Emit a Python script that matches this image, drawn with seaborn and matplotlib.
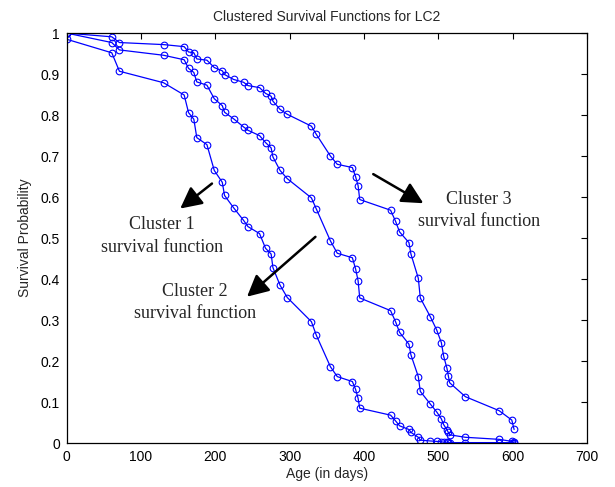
import matplotlib
matplotlib.use("Agg")
import matplotlib.pyplot as plt
import seaborn as sns
import pandas as pd

# event times (days), shared by the three clusters
age = [0, 0, 60.6, 70.9, 130.2, 158, 163.9, 171, 175, 188.6, 198.5, 209.3,
       212.3, 224.5, 238, 243.8, 259.4, 267.5, 275, 277.4, 287, 296.7, 329.2,
       335.8, 354.8, 364, 384.3, 388.6, 392, 394.2, 435.7, 442.4, 447.8, 460.4,
       463.1, 473, 475.7, 489.2, 497.7, 504, 507.1, 511.6, 513.4, 515.2, 536.4,
       581.7, 598.8, 601.9]

cluster3 = [1, 1, 0.991, 0.977, 0.972, 0.967, 0.954, 0.952, 0.937, 0.934, 0.916,
            0.908, 0.899, 0.887, 0.880, 0.872, 0.867, 0.853, 0.846, 0.834, 0.814,
            0.802, 0.773, 0.753, 0.700, 0.680, 0.672, 0.650, 0.628, 0.594, 0.568,
            0.541, 0.515, 0.489, 0.461, 0.402, 0.354, 0.308, 0.276, 0.245, 0.212,
            0.182, 0.164, 0.147, 0.113, 0.079, 0.056, 0.033]

cluster2 = [1, 1, 0.977, 0.959, 0.946, 0.935, 0.914, 0.904, 0.881, 0.873, 0.840,
            0.823, 0.807, 0.791, 0.771, 0.763, 0.750, 0.733, 0.720, 0.698, 0.665,
            0.645, 0.598, 0.571, 0.493, 0.463, 0.452, 0.425, 0.396, 0.354, 0.323,
            0.296, 0.270, 0.241, 0.215, 0.162, 0.126, 0.095, 0.076, 0.059, 0.045,
            0.032, 0.026, 0.020, 0.014, 0.009, 0.004, 0.002]

cluster1 = [1, 0.985, 0.952, 0.907, 0.879, 0.849, 0.806, 0.790, 0.745, 0.728,
            0.665, 0.636, 0.604, 0.574, 0.543, 0.528, 0.511, 0.475, 0.461, 0.428,
            0.385, 0.355, 0.296, 0.263, 0.186, 0.162, 0.150, 0.131, 0.109, 0.085,
            0.068, 0.054, 0.042, 0.033, 0.026, 0.014, 0.007, 0.005, 0.004, 0.003,
            0.002, 0.002, 0.002, 0.001, 0.001, 0.001, 0.001, 0.001]

xticks = [0, 100, 200, 300, 400, 500, 600, 700]
yticks = [0, 0.1, 0.2, 0.3, 0.4, 0.5, 0.6, 0.7, 0.8, 0.9, 1]
ytick_labels = ["0", "0.1", "0.2", "0.3", "0.4", "0.5", "0.6", "0.7", "0.8", "0.9", "1"]

frames = []
for name, vals in [("Cluster 1", cluster1), ("Cluster 2", cluster2), ("Cluster 3", cluster3)]:
    frames.append(pd.DataFrame({"age": age, "surv": vals, "cluster": name,
                                "order": range(len(age))}))
df = pd.concat(frames, ignore_index=True)

sns.set_style("white")
plt.rcParams["font.family"] = ["Liberation Sans", "DejaVu Sans"]

fig = plt.figure(figsize=(6.15, 4.87), dpi=100)
ax = fig.add_axes([0.1085, 0.0903, 0.846, 0.8417])

sns.lineplot(data=df, x="age", y="surv", units="cluster", estimator=None,
             sort=False, color="#0000ff", lw=0.9, marker="o", markersize=4.8,
             markerfacecolor="none", markeredgecolor="#0000ff", markeredgewidth=0.8,
             ax=ax, legend=False)

ax.set_xlim(0, 700)
ax.set_ylim(0, 1)
ax.set_xticks(xticks)
ax.set_yticks(yticks)
ax.set_yticklabels(ytick_labels)
ax.tick_params(direction="in", top=True, right=True, length=4, width=0.8,
               labelsize=10, colors="black", pad=5)
for s in ax.spines.values():
    s.set_visible(True)
    s.set_color("black")
    s.set_linewidth(0.9)

ax.set_xlabel("Age (in days)", fontsize=10, labelpad=2)
ax.set_ylabel("Survival Probability", fontsize=10, labelpad=6)
ax.set_title("Clustered Survival Functions for LC2", fontsize=10, pad=9)

serif = ["Liberation Serif", "DejaVu Serif"]
arrow = dict(arrowstyle="-|>,head_length=0.65,head_width=0.33", mutation_scale=20,
             lw=1.8, color="black", shrinkA=0, shrinkB=0)
ax.annotate("", xy=(152.7, 0.572), xytext=(195.4, 0.633), arrowprops=arrow)
ax.annotate("", xy=(242.6, 0.357), xytext=(334.6, 0.503), arrowprops=arrow)
ax.annotate("", xy=(479.8, 0.585), xytext=(412.4, 0.656), arrowprops=arrow)

ax.text(128.5, 0.532, "Cluster 1", family=serif, fontsize=13, ha="center", va="center")
ax.text(128.5, 0.478, "survival function", family=serif, fontsize=13, ha="center", va="center")
ax.text(172, 0.369, "Cluster 2", family=serif, fontsize=13, ha="center", va="center")
ax.text(172, 0.315, "survival function", family=serif, fontsize=13, ha="center", va="center")
ax.text(554.3, 0.593, "Cluster 3", family=serif, fontsize=13, ha="center", va="center")
ax.text(555, 0.541, "survival function", family=serif, fontsize=13, ha="center", va="center")

fig.savefig("out.png", dpi=100)
